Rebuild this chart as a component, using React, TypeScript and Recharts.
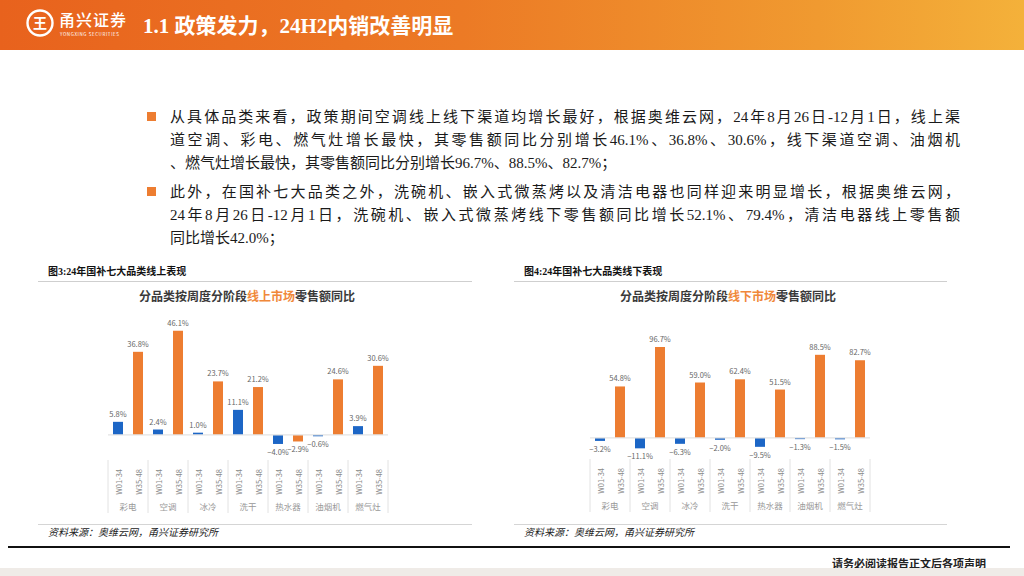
import React from "react";
import { Bar, BarChart, LabelList, ReferenceLine, XAxis, YAxis } from "recharts";

const categories = ["彩电", "空调", "冰冷", "洗干", "热水器", "油烟机", "燃气灶"];
const periods = ["W01-34", "W35-48"];
const onlineEarly = [5.8, 2.4, 1.0, 11.1, -4.0, -0.6, 3.9];
const onlineLate = [36.8, 46.1, 23.7, 21.2, -2.9, 24.6, 30.6];
const offlineEarly = [-3.2, -11.1, -6.3, -2.0, -9.5, -1.3, -1.5];
const offlineLate = [54.8, 96.7, 59.0, 62.4, 51.5, 88.5, 82.7];

const BLUE = "#1C66C6";
const ORANGE = "#ED7D31";
const PLOT_W = 280;
const BAND = PLOT_W / categories.length;

const serif = '"Liberation Serif", "DejaVu Serif", "Noto Sans CJK SC", serif';
const sans = '"Noto Sans CJK SC", "Noto Sans", sans-serif';

function buildRows(early: number[], late: number[]) {
  return categories.map((cat, i) => ({ cat, early: early[i], late: late[i] }));
}

function fmt(v: number) {
  return (v < 0 ? "−" + Math.abs(v).toFixed(1) : v.toFixed(1)) + "%";
}

function ValueLabel(props: any) {
  const { x, y, width, height, value } = props;
  const top = Math.min(y, y + height);
  const bottom = Math.max(y, y + height);
  const ty = value >= 0 ? top - 5 : bottom + 11;
  return (
    <text x={x + width / 2} y={ty} textAnchor="middle" fontSize={7.5} fill="#666" fontFamily={sans}>
      {fmt(value)}
    </text>
  );
}

function CategoryTick(props: any) {
  const { x, y, payload, index } = props;
  const half = BAND / 2;
  const last = index === categories.length - 1;
  return (
    <g>
      <line x1={x - half} x2={x - half} y1={y - 1} y2={y + 56} stroke="#e2e2e2" />
      {last && <line x1={x + half} x2={x + half} y1={y - 1} y2={y + 56} stroke="#e2e2e2" />}
      {periods.map((p, k) => (
        <text
          key={p}
          x={0}
          y={0}
          transform={`translate(${x + (k === 0 ? -10 : 10)},${y + 8}) rotate(-90)`}
          textAnchor="end"
          dominantBaseline="central"
          fontSize={7.5}
          fill="#8a8a8a"
          fontFamily={sans}
        >
          {p}
        </text>
      ))}
      <text x={x} y={y + 49} textAnchor="middle" fontSize={8.5} fill="#999" fontFamily={sans}>
        {payload.value}
      </text>
    </g>
  );
}

function GroupChart(props: { early: number[]; late: number[]; domain: [number, number]; top: number; plotH: number; left: number; right: number }) {
  const rows = buildRows(props.early, props.late);
  return (
    <BarChart
      width={440}
      height={props.top + props.plotH + 60}
      data={rows}
      margin={{ top: props.top, right: props.right, left: props.left, bottom: 0 }}
      barSize={10}
      barGap={10}
    >
      <YAxis hide domain={props.domain} allowDataOverflow />
      <XAxis dataKey="cat" interval={0} tickLine={false} axisLine={false} height={60} tick={<CategoryTick />} />
      <ReferenceLine y={0} stroke="#e3e3e3" strokeWidth={1.2} />
      <Bar dataKey="early" fill={BLUE} isAnimationActive={false}>
        <LabelList dataKey="early" content={<ValueLabel />} />
      </Bar>
      <Bar dataKey="late" fill={ORANGE} isAnimationActive={false}>
        <LabelList dataKey="late" content={<ValueLabel />} />
      </Bar>
    </BarChart>
  );
}

const para1 = [
  "从具体品类来看，政策期间空调线上线下渠道均增长最好，根据奥维云网，24年8月26日-12月1日，线上渠",
  "道空调、彩电、燃气灶增长最快，其零售额同比分别增长46.1%、36.8%、30.6%，线下渠道空调、油烟机",
  "、燃气灶增长最快，其零售额同比分别增长96.7%、88.5%、82.7%；",
];
const para2 = [
  "此外，在国补七大品类之外，洗碗机、嵌入式微蒸烤以及清洁电器也同样迎来明显增长，根据奥维云网，",
  "24年8月26日-12月1日，洗碗机、嵌入式微蒸烤线下零售额同比增长52.1%、79.4%，清洁电器线上零售额",
  "同比增长42.0%；",
];

function Paragraph({ lines, top }: { lines: string[]; top: number }) {
  return (
    <div style={{ position: "absolute", left: 0, top, width: 1024 }}>
      <div style={{ position: "absolute", left: 147, top: 6, width: 9, height: 9, background: ORANGE }} />
      {lines.map((l, i) => (
        <div
          key={i}
          style={{
            position: "absolute",
            left: 170,
            top: i * 23,
            width: 790,
            height: 22,
            lineHeight: "22px",
            fontSize: 15,
            color: "#1a1a1a",
            fontFamily: serif,
            whiteSpace: "nowrap",
            textAlign: "justify",
            textAlignLast: i < lines.length - 1 ? "justify" : "left",
          }}
        >
          {l}
        </div>
      ))}
    </div>
  );
}

function ChartPanel({ x, lineW, figTitle, pre, hl, post, titleCx, children }: any) {
  return (
    <>
      <div style={{ position: "absolute", left: x + 10, top: 263, fontSize: 10, fontWeight: 700, fontFamily: serif, color: "#111" }}>{figTitle}</div>
      <div style={{ position: "absolute", left: x, top: 281, width: lineW, height: 1, background: "#cfcfcf" }} />
      <div
        style={{
          position: "absolute",
          left: titleCx - 150,
          width: 300,
          top: 287,
          textAlign: "center",
          fontSize: 12,
          fontWeight: 700,
          fontFamily: sans,
          color: "#3a3a3a",
        }}
      >
        {pre}
        <span style={{ color: "#F0883A" }}>{hl}</span>
        {post}
      </div>
      {children}
      <div style={{ position: "absolute", left: x, top: 524, width: lineW, height: 1, background: "#d5d5d5" }} />
      <div style={{ position: "absolute", left: x + 10, top: 524, fontSize: 10, fontStyle: "italic", fontFamily: serif, color: "#222" }}>
        资料来源：奥维云网，甬兴证券研究所
      </div>
    </>
  );
}

export default function App() {
  return (
    <div style={{ position: "absolute", left: 0, top: 0, width: 1024, height: 576, background: "#fff", overflow: "hidden" }}>
      <div
        style={{
          position: "absolute",
          left: 0,
          top: 0,
          width: 1024,
          height: 50,
          background: "linear-gradient(90deg, #E8621D 0%, #EC7A25 45%, #F09A30 80%, #F4B13A 100%)",
        }}
      />
      <svg style={{ position: "absolute", left: 24, top: 7 }} width={32} height={32}>
        <circle cx={16} cy={16} r={12.5} fill="none" stroke="#fff" strokeWidth={2.4} />
        <text x={16} y={21} textAnchor="middle" fontSize={14} fontWeight={700} fill="#fff" fontFamily={sans}>
          王
        </text>
      </svg>
      <div style={{ position: "absolute", left: 59, top: 11, fontSize: 16, lineHeight: 1, color: "#fff", fontFamily: sans, fontWeight: 500, letterSpacing: 1 }}>
        甬兴证券
      </div>
      <div style={{ position: "absolute", left: 60, top: 32, fontSize: 4.5, lineHeight: 1, color: "#fff", fontFamily: sans, letterSpacing: 0.6 }}>
        YONGXING SECURITIES
      </div>
      <div style={{ position: "absolute", left: 143, top: 9, fontSize: 21, color: "#fff", fontFamily: serif, fontWeight: 700 }}>
        1.1 政策发力，24H2内销改善明显
      </div>

      <Paragraph lines={para1} top={106} />
      <Paragraph lines={para2} top={181} />

      <ChartPanel x={38} lineW={434} figTitle="图3:24年国补七大品类线上表现" pre="分品类按周度分阶段" hl="线上市场" post="零售额同比" titleCx={247}>
        <div style={{ position: "absolute", left: 38, top: 315 }}>
          <GroupChart early={onlineEarly} late={onlineLate} domain={[-8, 50]} top={7} plotH={131} left={70} right={90} />
        </div>
      </ChartPanel>
      <ChartPanel x={514} lineW={433} figTitle="图4:24年国补七大品类线下表现" pre="分品类按周度分阶段" hl="线下市场" post="零售额同比" titleCx={728}>
        <div style={{ position: "absolute", left: 515, top: 315 }}>
          <GroupChart early={offlineEarly} late={offlineLate} domain={[-15, 100]} top={29} plotH={108} left={75} right={85} />
        </div>
      </ChartPanel>

      <div style={{ position: "absolute", left: 8, top: 546, width: 1002, height: 1.5, background: "#111" }} />
      <div style={{ position: "absolute", left: 832, top: 555, fontSize: 11, fontWeight: 700, fontFamily: serif, color: "#222" }}>
        请务必阅读报告正文后各项声明
      </div>
      <div style={{ position: "absolute", left: 0, top: 568, width: 1024, height: 8, background: "#EFEBE7" }} />
    </div>
  );
}
